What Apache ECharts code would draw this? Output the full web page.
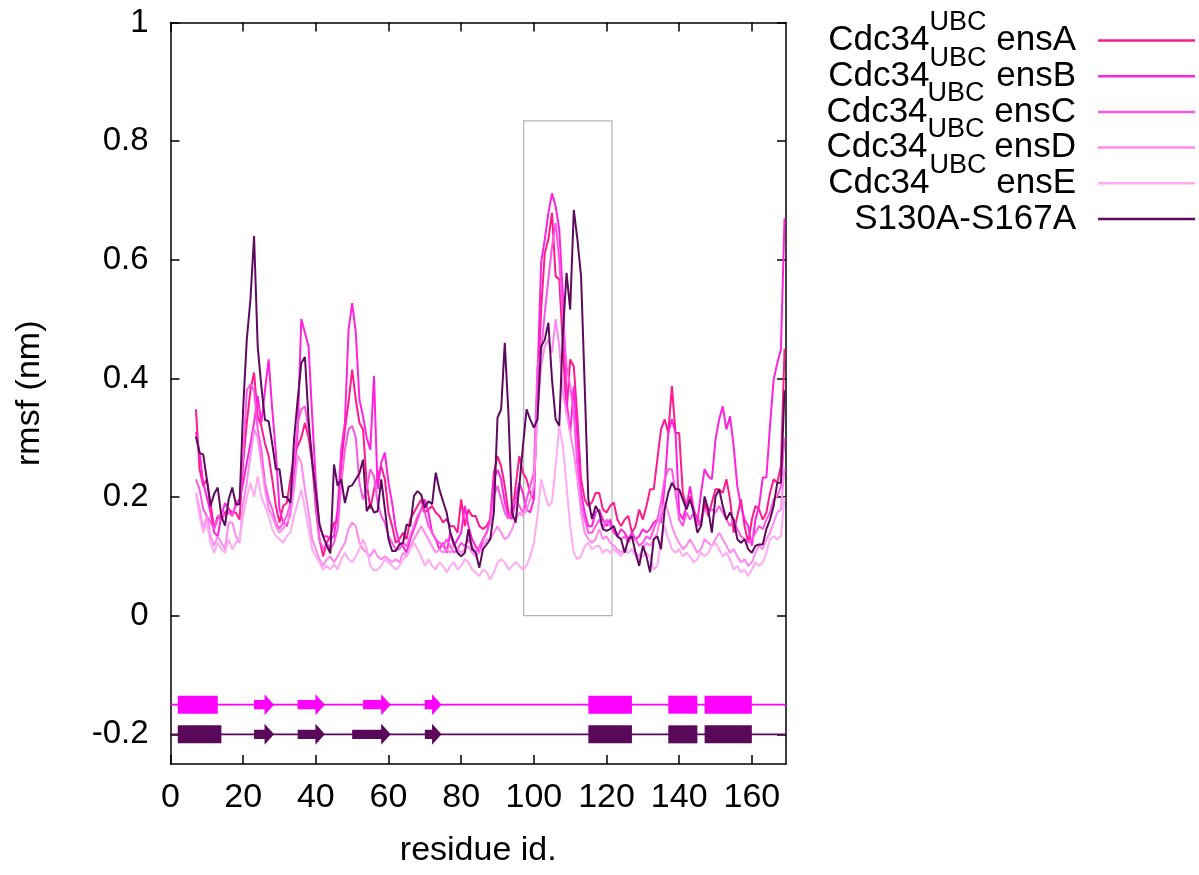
<!DOCTYPE html>
<html>
<head>
<meta charset="utf-8">
<title>rmsf</title>
<script src="https://cdn.jsdelivr.net/npm/echarts@6/dist/echarts.min.js"></script>
<style>
  html, body { margin: 0; padding: 0; background: #ffffff; }
  #chart { width: 1199px; height: 875px; }
</style>
</head>
<body>
<div id="chart"></div>
<script>
// residue numbers 7..169
var firstResidue = 7;
var lastResidue = 169;
var residues = [];
for (var r = firstResidue; r <= lastResidue; r++) residues.push(r);

var seriesNames = ['Cdc34 ensA', 'Cdc34 ensB', 'Cdc34 ensC', 'Cdc34 ensD', 'Cdc34 ensE', 'S130A-S167A'];
var seriesColors = ['#ff1a8c', '#ff22dd', '#ff55e6', '#ff88ee', '#ffaaf2', '#5e0a5e'];

// rmsf (nm), one value per residue
var ensA = [.348,.247,.219,.23,.19,.146,.168,.162,.174,.18,.174,.174,.162,.258,.325,.38,.41,.336,.32,.29,.27,.23,.185,.157,.185,.19,.23,.27,.286,.3,.325,.3,.258,.18,.129,.1,.123,.134,.157,.157,.258,.314,.36,.415,.364,.325,.314,.224,.18,.213,.235,.252,.23,.174,.151,.123,.129,
  .14,.129,.163,.174,.185,.196,.174,.179,.185,.174,.168,.157,.163,.151,.151,.14,.196,.151,.179,.168,.168,.151,.146,.151,.163,.241,.269,.252,.219,.174,.168,.219,.269,.241,.23,.207,.196,.37,.516,.611,.634,.679,.572,.567,.454,.342,.432,.42,.331,.23,.196,.185,.191,.207,
  .207,.179,.174,.185,.191,.162,.151,.162,.168,.14,.151,.179,.162,.185,.213,.213,.264,.314,.331,.308,.387,.308,.308,.207,.185,.201,.179,.162,.151,.191,.168,.191,.213,.213,.207,.23,.196,.14,.168,.196,.151,.123,.162,.185,.179,.162,.174,.207,.23,.224,.252,.45];
var ensB = [.31,.275,.224,.2,.174,.14,.134,.168,.19,.18,.168,.19,.196,.224,.258,.29,.325,.37,.325,.38,.432,.348,.275,.18,.157,.151,.174,.235,.31,.5,.477,.454,.336,.224,.151,.134,.134,.129,.134,.18,.28,.325,.482,.527,.477,.364,.336,.3,.28,.404,.213,.258,.275,.224,.19,.146,.123,
  .117,.106,.129,.146,.163,.179,.196,.174,.14,.129,.112,.123,.106,.14,.117,.129,.14,.185,.151,.129,.117,.106,.129,.14,.163,.23,.246,.23,.191,.168,.163,.196,.224,.207,.179,.174,.196,.398,.595,.634,.679,.712,.69,.651,.538,.364,.308,.387,.297,.207,.174,.151,.151,.174,
  .179,.162,.151,.162,.14,.134,.146,.14,.129,.14,.129,.134,.146,.14,.146,.157,.162,.157,.218,.308,.331,.308,.174,.162,.185,.218,.179,.157,.207,.247,.235,.23,.297,.331,.353,.314,.336,.286,.218,.185,.162,.151,.118,.162,.185,.233,.233,.32,.398,.426,.449,.67];
var ensC = [.23,.213,.18,.168,.157,.146,.162,.174,.168,.174,.168,.185,.19,.27,.38,.39,.38,.314,.28,.224,.196,.18,.157,.146,.157,.168,.19,.258,.325,.348,.353,.314,.27,.19,.129,.112,.123,.112,.123,.146,.224,.28,.314,.32,.3,.224,.196,.213,.247,.235,.19,.168,.157,.134,.123,.112,.112,
  .123,.117,.134,.151,.168,.179,.174,.151,.14,.129,.123,.117,.129,.117,.106,.112,.123,.117,.129,.117,.106,.117,.129,.14,.157,.202,.219,.196,.174,.163,.185,.196,.185,.174,.196,.219,.241,.42,.443,.51,.567,.622,.662,.6,.5,.42,.387,.342,.252,.185,.163,.14,.14,.151,
  .162,.146,.162,.151,.146,.134,.129,.134,.123,.134,.129,.118,.123,.134,.129,.146,.162,.191,.23,.247,.247,.207,.162,.151,.174,.162,.174,.151,.162,.179,.174,.179,.174,.185,.174,.162,.151,.162,.146,.134,.129,.123,.129,.14,.151,.146,.162,.174,.196,.201,.218,.3];
var ensD = [.207,.18,.146,.168,.134,.118,.134,.123,.112,.157,.157,.134,.123,.19,.224,.27,.314,.3,.258,.213,.18,.168,.151,.14,.146,.157,.168,.213,.27,.258,.213,.174,.129,.112,.095,.084,.095,.1,.09,.1,.112,.123,.146,.157,.151,.123,.112,.106,.1,.112,.1,.095,.1,.095,.09,.095,.09,
  .106,.1,.117,.129,.14,.151,.14,.129,.117,.106,.112,.106,.112,.106,.117,.112,.106,.112,.117,.106,.1,.106,.117,.129,.129,.14,.151,.14,.129,.134,.146,.163,.174,.168,.179,.196,.219,.342,.42,.454,.465,.443,.5,.454,.376,.342,.308,.275,.23,.174,.14,.129,.123,.129,
  .146,.129,.134,.123,.118,.112,.106,.112,.106,.112,.106,.1,.112,.123,.118,.129,.14,.174,.191,.174,.151,.134,.123,.112,.118,.129,.118,.106,.112,.129,.123,.118,.129,.14,.129,.118,.106,.112,.1,.09,.095,.084,.09,.106,.118,.112,.129,.14,.157,.174,.179,.25];
var ensE = [.207,.168,.14,.157,.123,.106,.123,.112,.106,.129,.112,.123,.129,.168,.2,.224,.2,.235,.2,.185,.168,.146,.134,.129,.123,.134,.14,.168,.19,.213,.18,.146,.112,.1,.09,.078,.084,.078,.087,.078,.095,.106,.095,.09,.1,.112,.129,.112,.084,.076,.078,.084,.095,.09,.084,.078,.084,
  .095,.1,.112,.123,.112,.1,.084,.095,.084,.078,.09,.084,.073,.084,.09,.078,.084,.095,.09,.078,.073,.067,.078,.073,.061,.073,.09,.095,.09,.078,.084,.09,.084,.078,.084,.1,.123,.168,.23,.207,.185,.191,.252,.32,.286,.219,.151,.106,.095,.1,.117,.123,.112,.117,
  .118,.106,.112,.106,.112,.106,.1,.112,.106,.112,.1,.095,.1,.106,.1,.078,.084,.129,.151,.129,.112,.106,.112,.1,.106,.1,.09,.095,.106,.1,.106,.118,.123,.112,.1,.106,.095,.078,.084,.073,.078,.067,.078,.09,.084,.09,.106,.129,.134,.129,.134,.2];
var mutant = [.302,.274,.272,.23,.185,.205,.216,.168,.152,.196,.216,.188,.188,.35,.466,.533,.64,.454,.387,.33,.328,.29,.247,.247,.2,.2,.19,.297,.364,.426,.436,.33,.258,.208,.154,.134,.118,.105,.255,.219,.23,.19,.217,.22,.23,.24,.263,.176,.188,.174,.176,.23,.18,.129,.109,.109,.12,
  .123,.154,.151,.202,.21,.204,.182,.193,.188,.241,.213,.193,.174,.14,.123,.106,.1,.106,.146,.112,.106,.081,.112,.12,.129,.174,.334,.348,.46,.342,.174,.157,.219,.286,.348,.331,.317,.331,.454,.465,.494,.398,.331,.32,.477,.578,.516,.684,.634,.572,.387,.196,.163,.185,
  .174,.146,.143,.146,.151,.134,.129,.106,.129,.134,.106,.084,.118,.1,.073,.129,.134,.112,.179,.207,.224,.213,.213,.196,.179,.196,.174,.14,.151,.201,.179,.14,.201,.213,.185,.162,.174,.162,.129,.123,.129,.112,.106,.118,.12,.12,.146,.162,.185,.224,.224,.38];

// secondary structure (residue ranges): helices = boxes, strands = arrows
var ssRows = [-0.15, -0.2];
var ssColors = ['#ff00ff', '#5a085a'];
var ensHelices = [[2, 13], [115, 127], [137, 145], [147, 160]];
var ensStrands = [[23, 28.5], [35, 42.5], [53, 60.6], [70, 74.6]];
var mutHelices = [[2, 14], [115, 127], [137, 145], [147, 160]];
var mutStrands = [[23, 28.5], [35, 42.5], [50, 60.6], [70, 74.6]];

// highlighted region
var boxResidues = [97.2, 121.5];
var boxRmsf = [0, 0.834];

var xRange = [0, 169.4];
var yRange = [-0.25, 1];
var xTicks = [0, 20, 40, 60, 80, 100, 120, 140, 160];
var yTicks = [-0.2, 0, 0.2, 0.4, 0.6, 0.8, 1];

var FONT = '"Liberation Sans", Arial, Helvetica, sans-serif';

var chart = echarts.init(document.getElementById('chart'), null, {renderer: 'canvas'});

var allValues = [ensA, ensB, ensC, ensD, ensE, mutant];
var series = [];
allValues.forEach(function (vals, k) {
  var s = {
    name: seriesNames[k],
    type: 'line',
    data: residues.map(function (res, i) { return [res, vals[i]]; }),
    showSymbol: false,
    symbol: 'none',
    lineStyle: {color: seriesColors[k], width: 2},
    itemStyle: {color: seriesColors[k]},
    z: 3,
    animation: false
  };
  if (k === 0) {
    s.markArea = {
      silent: true,
      itemStyle: {color: 'rgba(0,0,0,0)', borderColor: '#b4b4b4', borderWidth: 1.2},
      data: [[{coord: [boxResidues[0], boxRmsf[0]]}, {coord: [boxResidues[1], boxRmsf[1]]}]]
    };
  }
  series.push(s);
});

function ssSeries(rowY, color, helices, strands) {
  var items = helices.map(function (h) { return [h[0], h[1], 0]; })
    .concat(strands.map(function (s) { return [s[0], s[1], 1]; }));
  // baseline across the whole axis
  series.push({
    type: 'line',
    data: [[xRange[0], rowY], [xRange[1], rowY]],
    showSymbol: false,
    symbol: 'none',
    lineStyle: {color: color, width: 1.8},
    z: 4,
    animation: false,
    silent: true
  });
  series.push({
    type: 'custom',
    data: items,
    z: 5,
    silent: true,
    animation: false,
    renderItem: function (params, api) {
      var p0 = api.coord([api.value(0), rowY]);
      var p1 = api.coord([api.value(1), rowY]);
      if (api.value(2) === 0) {
        return {
          type: 'rect',
          shape: {x: p0[0], y: p0[1] - 9, width: p1[0] - p0[0], height: 18},
          style: {fill: color}
        };
      }
      var head = 9.5, bh = 4.6, hh = 10.5;
      var xb = p1[0] - head, y = p0[1];
      return {
        type: 'polygon',
        shape: {points: [[p0[0], y - bh], [xb, y - bh], [xb, y - hh], [p1[0], y], [xb, y + hh], [xb, y + bh], [p0[0], y + bh]]},
        style: {fill: color}
      };
    }
  });
}
ssSeries(ssRows[0], ssColors[0], ensHelices, ensStrands);
ssSeries(ssRows[1], ssColors[1], mutHelices, mutStrands);

function fmtY(v) {
  if (Math.abs(v) < 1e-9) return '0';
  if (Math.abs(v - 1) < 1e-9) return '1';
  return v.toFixed(1);
}

var axisLineStyle = {color: '#000', width: 1.5};
var option = {
  backgroundColor: '#ffffff',
  animation: false,
  grid: {left: 170.5, right: 413, top: 22.5, bottom: 111},
  legend: {
    data: seriesNames,
    orient: 'vertical',
    right: 4,
    top: 9,
    padding: 0,
    align: 'right',
    itemGap: -27.3,
    itemWidth: 97,
    itemHeight: 2.5,
    icon: 'rect',
    selectedMode: false,
    formatter: function (name) {
      if (name.indexOf('Cdc34 ') === 0) {
        return '{b|Cdc34}{sup|UBC}{e| ' + name.slice(6) + '}';
      }
      return '{p|' + name + '}';
    },
    textStyle: {
      color: '#000',
      rich: {
        b: {fontSize: 35, lineHeight: 35, fontFamily: FONT, color: '#000'},
        sup: {fontSize: 27, lineHeight: 27, fontFamily: FONT, color: '#000', padding: [0, 0, 36, 0]},
        e: {fontSize: 35, lineHeight: 35, fontFamily: FONT, color: '#000', padding: [0, 17, 0, 0]},
        p: {fontSize: 35, lineHeight: 35, fontFamily: FONT, color: '#000', padding: [14, 17, 14, 0]}
      }
    }
  },
  xAxis: [{
    type: 'value',
    min: xRange[0],
    max: xRange[1],
    position: 'bottom',
    name: 'residue id.',
    nameLocation: 'middle',
    nameGap: 70,
    nameTextStyle: {fontSize: 34, fontFamily: FONT, color: '#000'},
    axisLine: {show: true, onZero: false, lineStyle: axisLineStyle},
    axisTick: {show: true, inside: true, length: 9, customValues: xTicks, lineStyle: axisLineStyle},
    axisLabel: {customValues: xTicks, fontSize: 34, fontFamily: FONT, color: '#000', margin: 17},
    splitLine: {show: false}
  }, {
    type: 'value',
    min: xRange[0],
    max: xRange[1],
    position: 'top',
    axisLine: {show: true, onZero: false, lineStyle: axisLineStyle},
    axisTick: {show: true, inside: true, length: 9, customValues: xTicks, lineStyle: axisLineStyle},
    axisLabel: {show: false},
    splitLine: {show: false}
  }],
  yAxis: [{
    type: 'value',
    min: yRange[0],
    max: yRange[1],
    position: 'left',
    name: 'rmsf (nm)',
    nameLocation: 'middle',
    nameGap: 124,
    nameRotate: 90,
    nameTextStyle: {fontSize: 34, fontFamily: FONT, color: '#000'},
    axisLine: {show: true, onZero: false, lineStyle: axisLineStyle},
    axisTick: {show: true, inside: true, length: 9, customValues: yTicks, lineStyle: axisLineStyle},
    axisLabel: {customValues: yTicks, fontSize: 33, fontFamily: FONT, color: '#000', margin: 22, formatter: fmtY},
    splitLine: {show: false}
  }, {
    type: 'value',
    min: yRange[0],
    max: yRange[1],
    position: 'right',
    axisLine: {show: true, onZero: false, lineStyle: axisLineStyle},
    axisTick: {show: true, inside: true, length: 9, customValues: yTicks, lineStyle: axisLineStyle},
    axisLabel: {show: false},
    splitLine: {show: false}
  }],
  series: series
};

chart.setOption(option);
</script>
</body>
</html>
